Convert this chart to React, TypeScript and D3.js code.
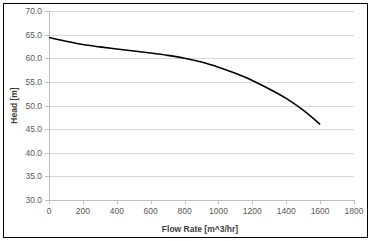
import * as d3 from 'd3';

const flowRate = [0, 100, 200, 300, 400, 500, 600, 700, 800, 900, 1000, 1100, 1200, 1300, 1400, 1500, 1600];
const head = [64.4, 63.6, 62.9, 62.4, 61.95, 61.55, 61.1, 60.6, 60.0, 59.2, 58.1, 56.8, 55.3, 53.5, 51.5, 49.0, 46.0];
const xTicks = [0, 200, 400, 600, 800, 1000, 1200, 1400, 1600, 1800];
const yTicks = [30, 35, 40, 45, 50, 55, 60, 65, 70];

const W = 371;
const H = 241;
const margin = { left: 49, right: 17, top: 11, bottom: 41 };

export default function App(): JSX.Element {
  const x = d3.scaleLinear().domain([0, 1800]).range([margin.left, W - margin.right]);
  const y = d3.scaleLinear().domain([30, 70]).range([H - margin.bottom, margin.top]);
  const pts = flowRate.map((f, i) => [f, head[i]] as [number, number]);
  const line = d3
    .line<[number, number]>()
    .x((d) => x(d[0]))
    .y((d) => y(d[1]))
    .curve(d3.curveMonotoneX);
  const font = 'Liberation Sans, Arial, sans-serif';
  const y0 = y(30);

  return (
    <svg
      xmlns="http://www.w3.org/2000/svg"
      width={W}
      height={H}
      style={{ position: 'absolute', left: 0, top: 0, background: '#fff' }}
    >
      <rect x={3.5} y={3.5} width={W - 7} height={H - 7} fill="#fff" stroke="#000" strokeWidth={1} />
      {yTicks.map((t) => (
        <g key={t}>
          {t > 30 && (
            <line x1={x(0)} x2={x(1800)} y1={Math.round(y(t)) + 0.5} y2={Math.round(y(t)) + 0.5} stroke="#d9d9d9" />
          )}
          <line x1={x(0) - 4} x2={x(0)} y1={Math.round(y(t)) + 0.5} y2={Math.round(y(t)) + 0.5} stroke="#bfbfbf" />
          <text x={x(0) - 7} y={y(t) + 3} textAnchor="end" fontSize={8.5} fontFamily={font} fill="#595959">
            {t.toFixed(1)}
          </text>
        </g>
      ))}
      <line x1={Math.round(x(0)) + 0.5} x2={Math.round(x(0)) + 0.5} y1={y(70)} y2={y0} stroke="#bfbfbf" />
      <line x1={x(0)} x2={x(1800)} y1={Math.round(y0) + 0.5} y2={Math.round(y0) + 0.5} stroke="#bfbfbf" />
      {xTicks.map((t) => (
        <g key={t}>
          <line x1={Math.round(x(t)) + 0.5} x2={Math.round(x(t)) + 0.5} y1={y0} y2={y0 + 4} stroke="#bfbfbf" />
          <text x={x(t)} y={y0 + 14} textAnchor="middle" fontSize={8.5} fontFamily={font} fill="#595959">
            {t}
          </text>
        </g>
      ))}
      <path d={line(pts) ?? ''} fill="none" stroke="#000" strokeWidth={1.6} />
      <text
        x={200}
        y={232}
        textAnchor="middle"
        fontSize={8.5}
        fontWeight="bold"
        fontFamily={font}
        fill="#404040"
      >
        Flow Rate [m^3/hr]
      </text>
      <text
        transform={`translate(17,${(y(70) + y0) / 2}) rotate(-90)`}
        textAnchor="middle"
        fontSize={8.5}
        fontWeight="bold"
        fontFamily={font}
        fill="#404040"
      >
        Head [m]
      </text>
    </svg>
  );
}
